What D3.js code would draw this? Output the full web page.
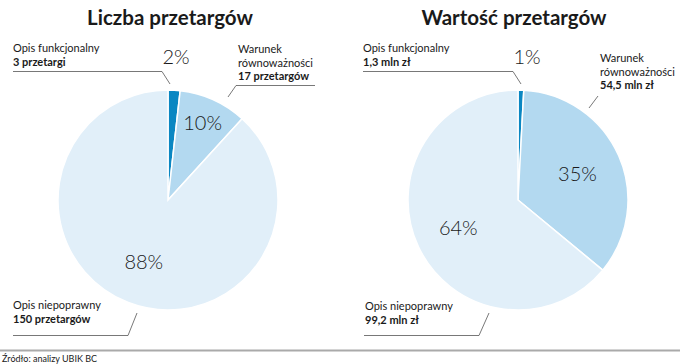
<!DOCTYPE html>
<html><head><meta charset="utf-8">
<script src="https://cdn.jsdelivr.net/npm/d3@7"></script>
<style>
body{margin:0;background:#fff;}
text{font-family:Lato,"Open Sans",sans-serif;fill:#1a1a1a;}
</style></head>
<body><svg id="c" width="680" height="364"></svg>
<script>
const categories = ["Opis funkcjonalny", "Warunek równoważności", "Opis niepoprawny"];
const countValues = [3, 17, 150];
const countLabels = ["3 przetargi", "17 przetargów", "150 przetargów"];
const countPercents = ["2%", "10%", "88%"];
const valueValues = [1.3, 54.5, 99.2];
const valueLabels = ["1,3 mln zł", "54,5 mln zł", "99,2 mln zł"];
const valuePercents = ["1%", "35%", "64%"];
const titles = ["Liczba przetargów", "Wartość przetargów"];
const source = "Źródło: analizy UBIK BC";

const colors = ["#0a87c2", "#b3d9f0", "#e1eff9"];
const svg = d3.select("#c");
const R = 110;

function drawPie(cx, cy, vals, pcts, labels, title, opts) {
  const g = svg.append("g").attr("transform", `translate(${cx},${cy})`);
  const pie = d3.pie().sort(null).value(d => d)(vals);
  const arc = d3.arc().innerRadius(0).outerRadius(R);
  g.selectAll("path").data(pie).enter().append("path")
    .attr("d", arc).attr("fill", (d, i) => colors[i])
    .attr("stroke", "#fff").attr("stroke-width", 1.5);
  pie.forEach((d, i) => {
    const mid = (d.startAngle + d.endAngle) / 2;
    const t = g.append("text").attr("text-anchor", "middle")
      .style("font-size", "20px").style("font-weight", "300").text(pcts[i]);
    if (i === 0) {
      t.attr("x", opts.p0x).attr("y", -136);
    } else {
      const r = opts.lr[i];
      t.attr("x", Math.sin(mid) * r).attr("y", -Math.cos(mid) * r + 7);
    }
  });
  svg.append("text").attr("x", cx + opts.tdx).attr("y", 25).attr("text-anchor", "middle")
    .style("font-size", "20.5px").style("font-weight", "bold").text(title);
}

drawPie(168, 200, countValues, countPercents, countLabels, titles[0], {p0x: 8, lr: [0, 84, 67], tdx: 2});
drawPie(518, 200, valueValues, valuePercents, valueLabels, titles[1], {p0x: 9, lr: [0, 65, 66], tdx: -4});

function label(x, y, lines, boldLast) {
  const t = svg.append("text").style("font-size", "11px");
  lines.forEach((l, i) => {
    t.append("tspan").attr("x", x).attr("y", y + i * 13.5).text(l)
      .style("font-weight", (boldLast && i === lines.length - 1) ? "bold" : "normal");
  });
}
const line = d3.line();
function leader(pts) {
  svg.append("path").attr("d", line(pts)).attr("fill", "none").attr("stroke", "#555").attr("stroke-width", 0.8);
}

label(13, 52, ["Opis funkcjonalny", countLabels[0]], true);
leader([[13, 71.5], [162, 71.5], [170, 84]]);
label(238, 53, ["Warunek", "równoważności", countLabels[1]], true);
leader([[315, 85.5], [236, 85.5], [228, 97]]);
label(13, 309, ["Opis niepoprawny", countLabels[2]], true);
leader([[13, 335.5], [128, 335.5], [137, 313]]);

label(363, 52, ["Opis funkcjonalny", valueLabels[0]], true);
leader([[363, 71.5], [513, 71.5], [521, 84]]);
label(600, 62, ["Warunek", "równoważności", valueLabels[1]], true);
leader([[598, 96], [589, 108]]);
label(365, 310, ["Opis niepoprawny", valueLabels[2]], true);
leader([[364, 335.5], [479, 335.5], [489, 313]]);

svg.append("rect").attr("x", 0).attr("y", 349.5).attr("width", 680).attr("height", 2).attr("fill", "#aaa");
svg.append("text").attr("x", 2).attr("y", 362).style("font-size", "9px").text(source);
</script></body></html>
